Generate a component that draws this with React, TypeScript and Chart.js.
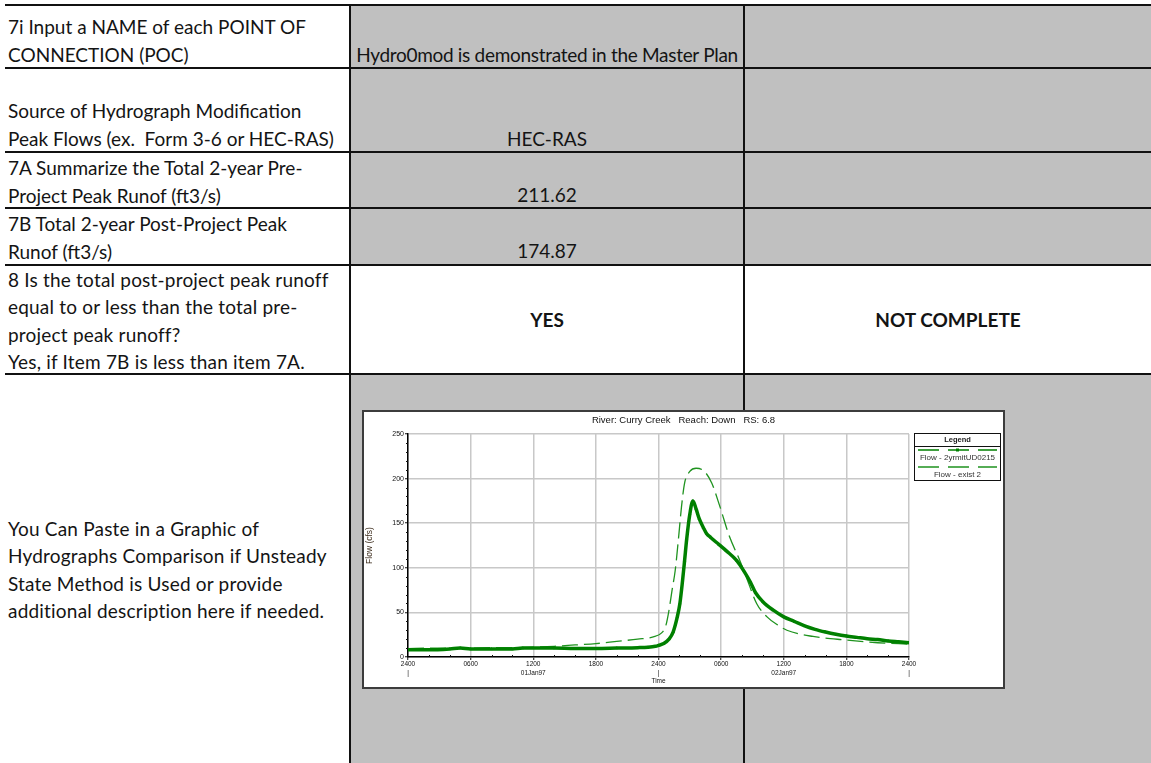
import React, { useEffect, useRef } from 'react';
import { Chart, registerables } from 'chart.js';

Chart.register(...registerables);

// ---------------- data ----------------
const chartTitle = 'River: Curry Creek   Reach: Down   RS: 6.8';
const seriesNames = ['Flow - 2yrmitUD0215', 'Flow - exist 2'];
const yAxisTitle = 'Flow (cfs)';
const xAxisTitle = 'Time';
const hourLabels = ['2400', '0600', '1200', '1800'];
const dayLabels = ['01Jan97', '02Jan97'];
const xTickHours = [0, 6, 12, 18, 24, 30, 36, 42, 48];

// post-project (mitigated) hydrograph, hours from 01Jan97 0000
const postHours = [0, 2, 4, 5, 6, 8, 10, 11, 14, 16, 18, 20, 22, 23, 23.7, 24, 24.5, 25, 25.4, 25.8, 26.05, 26.3, 26.5, 26.7, 27.0, 27.3, 27.6, 27.9, 28.3, 28.6, 29.0, 29.8, 30.5, 31.5, 32.2, 32.8, 33.3, 34, 35, 36, 37, 38, 39, 40, 41, 42, 43, 44, 45, 46, 47, 48];
const postFlow = [8, 8, 9, 10, 9, 9, 9, 10, 10, 9.5, 9.5, 10, 10.5, 11, 12, 13, 15, 20, 28, 45, 60, 85, 108, 132, 160, 174.87, 166, 155, 145, 138.5, 134, 126, 119, 108, 96, 84, 72, 62, 52.5, 45, 40, 35, 31, 28, 25.5, 23.5, 22, 20.5, 19.5, 18, 17, 16];

// existing condition hydrograph
const existHours = [0, 2, 4, 6, 8, 10, 12, 14, 16, 18, 20, 22, 23.5, 24.3, 24.7, 25.0, 25.3, 25.6, 25.9, 26.2, 26.5, 27.0, 27.6, 28.4, 29.1, 29.9, 30.8, 31.8, 32.4, 33.4, 34.4, 35.4, 36.3, 38.8, 42, 45, 48];
const existFlow = [9.5, 10, 10, 10, 10.5, 10.5, 11, 12, 13.5, 15, 17.5, 20, 22.5, 27, 35, 52, 75, 97, 131, 168, 195, 208, 211.62, 208, 195, 168, 135, 108, 90, 60, 45, 36, 30, 23, 19, 16, 14.5];

// spreadsheet cell texts
const labelRows = [
  ['7i Input a NAME of each POINT OF', 'CONNECTION (POC)'],
  ['Source of Hydrograph Modification', 'Peak Flows (ex.  Form 3-6 or HEC-RAS)'],
  ['7A Summarize the Total 2-year Pre-', 'Project Peak Runof (ft3/s)'],
  ['7B Total 2-year Post-Project Peak', 'Runof (ft3/s)'],
  ['8 Is the total post-project peak runoff', 'equal to or less than the total pre-', 'project peak runoff?', 'Yes, if Item 7B is less than item 7A.'],
  ['You Can Paste in a Graphic of', 'Hydrographs Comparison if Unsteady', 'State Method is Used or provide', 'additional description here if needed.'],
];
const valueRows = ['Hydro0mod is demonstrated in the Master Plan', 'HEC-RAS', '211.62', '174.87'];
const checkResults = ['YES', 'NOT COMPLETE'];

// ---------------- chart ----------------
const SOLID = '#008000';
const DASHED = '#1f931f';
const AXIS_FONT = "'Liberation Sans', Arial, sans-serif";
const TICK_FONT = { family: AXIS_FONT, size: 6.5, lineHeight: 1.4 };

const hecPlugin = {
  id: 'hecExtras',
  afterDraw(chart: any) {
    const { ctx, chartArea, scales } = chart;
    const x = scales.x;
    const y = scales.y;
    ctx.save();
    // minor ticks
    ctx.strokeStyle = '#111';
    ctx.lineWidth = 1;
    ctx.beginPath();
    for (let v = 10; v < 250; v += 10) {
      if (v % 50 === 0) continue;
      const py = Math.round(y.getPixelForValue(v)) + 0.5;
      ctx.moveTo(chartArea.left - 2, py);
      ctx.lineTo(chartArea.left, py);
    }
    for (let h = 2; h < 48; h += 2) {
      if (h % 6 === 0) continue;
      const px = Math.round(x.getPixelForValue(h)) + 0.5;
      ctx.moveTo(px, chartArea.bottom);
      ctx.lineTo(px, chartArea.bottom - 2);
    }
    ctx.stroke();

    // legend box
    const L = chartArea.right + 5;
    const T = chartArea.top - 1;
    const W = 87;
    const H = 48;
    ctx.fillStyle = '#fff';
    ctx.fillRect(L, T, W, H);
    ctx.strokeStyle = '#111';
    ctx.lineWidth = 1;
    ctx.strokeRect(L + 0.5, T + 0.5, W - 1, H - 1);
    ctx.beginPath();
    ctx.moveTo(L, T + 13.5);
    ctx.lineTo(L + W, T + 13.5);
    ctx.stroke();
    ctx.fillStyle = '#222';
    ctx.textAlign = 'center';
    ctx.textBaseline = 'middle';
    ctx.font = `bold 7.5px ${AXIS_FONT}`;
    ctx.fillText('Legend', L + W / 2, T + 7);
    chart.data.datasets.forEach((ds: any, i: number) => {
      const ly = T + 17 + i * 17;
      ctx.strokeStyle = ds.borderColor;
      ctx.lineWidth = 1.5;
      ctx.setLineDash([21, 9]);
      ctx.beginPath();
      ctx.moveTo(L + 4, ly);
      ctx.lineTo(L + W - 4, ly);
      ctx.stroke();
      ctx.setLineDash([]);
      if (i === 0) {
        ctx.fillStyle = ds.borderColor;
        ctx.fillRect(L + W / 2 - 1.5, ly - 1.5, 3, 3);
      }
      ctx.fillStyle = '#333';
      ctx.font = `8px ${AXIS_FONT}`;
      ctx.fillText(ds.label, L + W / 2, ly + 8);
    });
    ctx.restore();
  },
};

function HydroChart() {
  const ref = useRef<HTMLCanvasElement>(null);
  useEffect(() => {
    const canvas = ref.current;
    if (!canvas) return;
    const chart = new Chart(canvas, {
      type: 'line',
      data: {
        datasets: [
          {
            label: seriesNames[0],
            data: postHours.map((h, i) => ({ x: h, y: postFlow[i] })),
            borderColor: SOLID,
            backgroundColor: SOLID,
            borderWidth: 3.5,
            pointRadius: 1.3,
            pointStyle: 'triangle',
            pointBorderWidth: 1,
            pointBorderColor: SOLID,
            cubicInterpolationMode: 'monotone',
          },
          {
            label: seriesNames[1],
            data: existHours.map((h, i) => ({ x: h, y: existFlow[i] })),
            borderColor: DASHED,
            backgroundColor: DASHED,
            borderWidth: 1.3,
            borderDash: [16, 6],
            pointRadius: 0,
            cubicInterpolationMode: 'monotone',
          },
        ],
      } as any,
      options: {
        animation: false,
        responsive: false,
        events: [],
        layout: { padding: 0 },
        plugins: {
          legend: { display: false },
          tooltip: { enabled: false },
          title: {
            display: true,
            text: chartTitle,
            color: '#111',
            font: { family: AXIS_FONT, size: 9.5, weight: 'normal', lineHeight: 1 },
            padding: { top: 4, bottom: 8.5 },
          },
        },
        scales: {
          x: {
            type: 'linear',
            min: 0,
            max: 48,
            afterFit: (s: any) => { s.height = 30; },
            afterBuildTicks: (s: any) => { s.ticks = xTickHours.map((v) => ({ value: v })); },
            ticks: {
              autoSkip: false,
              maxRotation: 0,
              padding: 0,
              color: '#111',
              font: TICK_FONT,
              callback: (value: any) => {
                const v = Number(value);
                const main = hourLabels[Math.round(v / 6) % 4];
                if (v % 24 === 0) return [main, '|'];
                if (v % 24 === 12) return [main, dayLabels[Math.floor(v / 24)]];
                return main;
              },
            },
            grid: { color: '#c8c8c8', lineWidth: 1.5, tickColor: '#111', tickWidth: 1, tickLength: 3 },
            border: { color: '#000', width: 1.5 },
            title: {
              display: true,
              text: xAxisTitle,
              color: '#111',
              font: { family: AXIS_FONT, size: 6.5, lineHeight: 1.2 },
              padding: { top: 0, bottom: 2 },
            },
          },
          y: {
            min: 0,
            max: 250,
            afterFit: (s: any) => { s.width = 44; },
            ticks: { stepSize: 50, padding: 1, color: '#111', font: { family: AXIS_FONT, size: 7 } },
            grid: { color: '#c8c8c8', lineWidth: 1.5, tickColor: '#111', tickWidth: 1, tickLength: 3 },
            border: { color: '#000', width: 1.5 },
            title: {
              display: true,
              text: yAxisTitle,
              color: '#3a2a1a',
              font: { family: AXIS_FONT, size: 8.5, lineHeight: 1.2 },
              padding: { top: 1, bottom: 0 },
            },
          },
          // empty right-hand band that holds the legend box
          legendBand: {
            type: 'linear',
            position: 'right',
            min: 0,
            max: 250,
            afterFit: (s: any) => { s.width = 94; },
            ticks: { display: false },
            grid: { display: false, drawOnChartArea: false, drawTicks: false },
            border: { display: false },
          },
        },
      } as any,
      plugins: [hecPlugin],
    });
    return () => chart.destroy();
  }, []);
  return <canvas ref={ref} width={639} height={275} style={{ display: 'block', width: 639, height: 275 }} />;
}

// ---------------- page ----------------
const FONT = "Lato, 'Open Sans', sans-serif";
const LH = 27.5;
const hLines = [4, 67, 151, 207, 264, 373];
const vLines = [349, 743];
const labelTops = [13.25, 97.25, 154, 210, 265.5, 514.5];
const valueTops = [41.25, 125.25, 181.25, 237.25];

export default function App() {
  useEffect(() => {
    document.body.style.margin = '0';
  }, []);
  return (
    <div
      style={{
        position: 'absolute',
        left: 0,
        top: 0,
        width: 1151,
        height: 763,
        overflow: 'hidden',
        background: '#fff',
        fontFamily: FONT,
        fontSize: 19,
        color: '#141414',
      }}
    >
      <div style={{ position: 'absolute', left: 351, top: 6, width: 800, height: 258, background: '#c0c0c0' }} />
      <div style={{ position: 'absolute', left: 351, top: 375, width: 800, height: 388, background: '#c0c0c0' }} />
      {hLines.map((t) => (
        <div key={'h' + t} style={{ position: 'absolute', left: 5, top: t, width: 1146, height: 2, background: '#111' }} />
      ))}
      {vLines.map((l) => (
        <div key={'v' + l} style={{ position: 'absolute', left: l, top: 4, width: 2, height: 759, background: '#111' }} />
      ))}
      {labelRows.map((lines, i) => (
        <div key={'l' + i} style={{ position: 'absolute', left: 8, top: labelTops[i], lineHeight: LH + 'px', whiteSpace: 'pre', letterSpacing: i >= 4 ? '0.2px' : '0px' }}>
          {lines.map((s, j) => (
            <div key={j}>{s}</div>
          ))}
        </div>
      ))}
      {valueRows.map((s, i) => (
        <div
          key={'v' + i}
          style={{
            position: 'absolute',
            left: 351,
            width: 392,
            top: valueTops[i],
            lineHeight: LH + 'px',
            textAlign: 'center',
            whiteSpace: 'nowrap',
            letterSpacing: i === 0 ? '-0.3px' : '0px',
          }}
        >
          {s}
        </div>
      ))}
      <div style={{ position: 'absolute', left: 351, width: 392, top: 306, lineHeight: LH + 'px', textAlign: 'center', fontWeight: 700 }}>
        {checkResults[0]}
      </div>
      <div style={{ position: 'absolute', left: 745, width: 406, top: 306, lineHeight: LH + 'px', textAlign: 'center', fontWeight: 700 }}>
        {checkResults[1]}
      </div>
      <div
        style={{
          position: 'absolute',
          left: 362,
          top: 410,
          width: 643,
          height: 279,
          boxSizing: 'border-box',
          border: '2px solid #3c3c3c',
          background: '#fff',
        }}
      >
        <HydroChart />
      </div>
    </div>
  );
}
